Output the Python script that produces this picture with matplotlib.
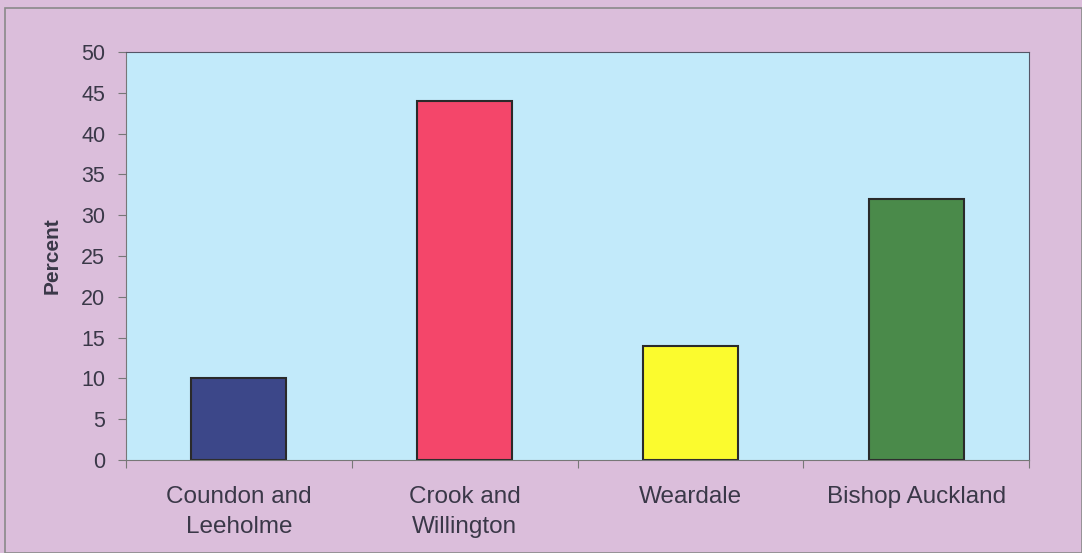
import matplotlib.pyplot as plt
from matplotlib.patches import Rectangle

# Données
regions = ["Coundon and\nLeeholme", "Crook and\nWillington", "Weardale", "Bishop Auckland"]
percent = [10, 44, 14, 32]
bar_colors = ["#3c4789", "#f4466a", "#fbfb2e", "#4a8a4a"]
yticks = [0, 5, 10, 15, 20, 25, 30, 35, 40, 45, 50]

plt.rcParams['font.family'] = ['Liberation Sans', 'DejaVu Sans']
txt = "#3a3848"

fig = plt.figure(figsize=(10.82, 5.53), dpi=100)
fig.patch.set_facecolor("#dbbedb")
fig.add_artist(Rectangle((5 / 1082, 0), 1 - 5 / 1082, 1 - 8 / 553,
                         transform=fig.transFigure, fill=False,
                         edgecolor="#8a8a8a", linewidth=1.2))

ax = fig.add_axes([126 / 1082, 1 - 460 / 553, (1029 - 126) / 1082, (460 - 52) / 553])
ax.set_facecolor("#c2eafa")

x = list(range(len(regions)))
ax.bar(x, percent, width=0.42, color=bar_colors, edgecolor="#2a2a2a", linewidth=1.5)

ax.set_xlim(-0.5, len(regions) - 0.5)
ax.set_ylim(0, 50)
ax.set_yticks(yticks)
ax.tick_params(axis='y', direction='out', length=6, colors="#777777",
               labelcolor=txt, labelsize=15.5, pad=9)

# ticks aux bords des catégories, labels au centre
ax.set_xticks([i - 0.5 for i in range(len(regions) + 1)])
ax.set_xticklabels([])
ax.set_xticks(x, minor=True)
ax.set_xticklabels(regions, minor=True, fontsize=17.5, color=txt, linespacing=1.45)
ax.tick_params(axis='x', which='major', direction='out', length=6, colors="#777777")
ax.tick_params(axis='x', which='minor', length=0, pad=19)

for side in ["left", "bottom"]:
    ax.spines[side].set_color("#777777")
for side in ["top", "right"]:
    ax.spines[side].set_color("#555566")

ax.set_ylabel("Percent", fontsize=15, fontweight='bold', color=txt, labelpad=14)

fig.savefig("out.png", dpi=100, facecolor=fig.get_facecolor())
